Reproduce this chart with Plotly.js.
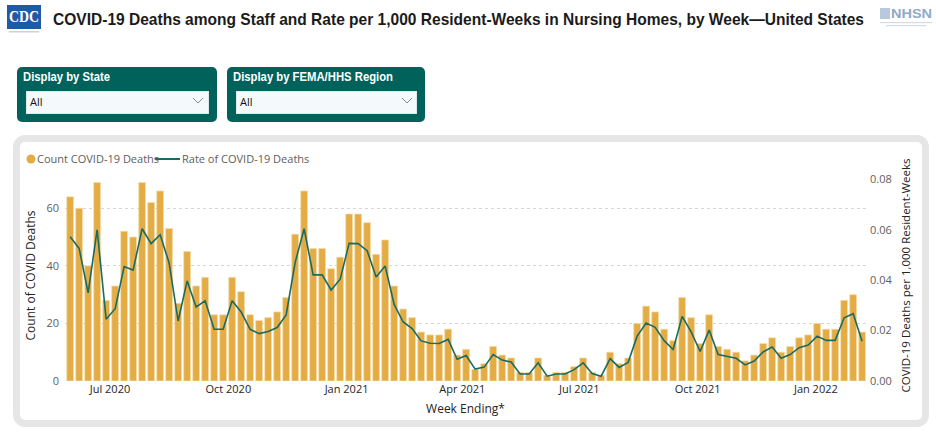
<!DOCTYPE html>
<html>
<head>
<meta charset="utf-8">
<script src="https://cdn.plot.ly/plotly-3.0.1.min.js"></script>
<style>
  html, body { margin:0; padding:0; background:#fff; width:936px; height:432px; overflow:hidden; }
  #page { position:relative; width:936px; height:432px; }
  .abs { position:absolute; }
  #card { left:13px; top:135px; width:902px; height:278px; border:7px solid #E6E6E6; border-radius:12px; background:#fff; }
  .panel { top:67px; height:55px; background:#00625A; border-radius:5px; }
  .box { background:#F4FAFC; border:1px solid #dfe8ea; }
  .all { font-family:"Open Sans", sans-serif; font-size:11px; color:#111; }
  #chart { left:0; top:0; width:936px; height:432px; }
  .leg { font-family:"Open Sans", sans-serif; font-size:11px; color:#605E5C; white-space:nowrap; }
  .fit { white-space:nowrap; transform-origin:0 0; font-family:"Liberation Sans Narrow","Liberation Sans",sans-serif; font-weight:bold; line-height:1; }
</style>
</head>
<body>
<div id="page">
  <!-- header logos -->
  <svg class="abs" style="left:0;top:0" width="936" height="40">
    <rect x="7" y="5" width="34" height="24" fill="#1F5AA6"/>
    <rect x="9" y="31" width="30" height="1.5" fill="#c9d3e0"/>
    <rect x="880" y="8" width="10" height="11" fill="#b8c9dd"/>
    <rect x="880" y="22" width="52" height="1.2" fill="#d3dbe5"/>
    <rect x="886" y="25" width="40" height="1.2" fill="#d3dbe5"/>
  </svg>
  <div class="abs fit" id="cdc" data-w="30" style="left:9px;top:8px;font-family:'Liberation Serif',serif;font-size:17px;color:#fff;">CDC</div>
  <div class="abs fit" id="title" data-w="811" style="left:53px;top:11px;font-size:17px;color:#1b1b1b;">COVID-19 Deaths among Staff and Rate per 1,000 Resident-Weeks in Nursing Homes, by Week—United States</div>
  <div class="abs fit" id="nhsn" data-w="41" style="left:891px;top:8px;font-size:12px;color:#8fa9c9;">NHSN</div>

  <!-- slicers -->
  <div class="abs panel" style="left:17px;width:200px;"></div>
  <div class="abs panel" style="left:227px;width:198px;"></div>
  <div class="abs fit" data-w="87" style="left:23px;top:71px;font-size:12.5px;color:#fff;">Display by State</div>
  <div class="abs fit" data-w="160" style="left:233px;top:71px;font-size:12.5px;color:#fff;">Display by FEMA/HHS Region</div>
  <div class="abs box" style="left:26px;top:91px;width:181px;height:21px;"></div>
  <div class="abs box" style="left:236px;top:91px;width:179px;height:21px;"></div>
  <div class="abs all" style="left:30px;top:94px;">All</div>
  <div class="abs all" style="left:240px;top:94px;">All</div>
  <svg class="abs" style="left:0;top:90px" width="440" height="24">
    <polyline points="193,8 198,13 203,8" fill="none" stroke="#8a8a8a" stroke-width="1"/>
    <polyline points="402,8 407,13 412,8" fill="none" stroke="#8a8a8a" stroke-width="1"/>
  </svg>

  <!-- card -->
  <div class="abs" id="card"></div>

  <!-- legend -->
  <svg class="abs" style="left:0;top:150px" width="320" height="20">
    <circle cx="31" cy="9" r="4.5" fill="#E3AC45"/>
    <line x1="155" y1="9" x2="180" y2="9" stroke="#1A6B62" stroke-width="2"/>
  </svg>
  <div class="abs leg" style="left:37px;top:151px;">Count COVID-19 Deaths</div>
  <div class="abs leg" style="left:182px;top:151px;">Rate of COVID-19 Deaths</div>

  <div class="abs" id="chart"></div>
</div>

<script>
// fit header texts to their measured widths in the reference
document.querySelectorAll(".fit").forEach(function (el) {
  var target = parseFloat(el.getAttribute("data-w"));
  var w = el.getBoundingClientRect().width;
  if (w > 0) el.style.transform = "scaleX(" + (target / w) + ")";
});

// Week ending dates
const weekEnding = [
  "2020-05-31","2020-06-07","2020-06-14","2020-06-21","2020-06-28","2020-07-05","2020-07-12","2020-07-19","2020-07-26",
  "2020-08-02","2020-08-09","2020-08-16","2020-08-23","2020-08-30","2020-09-06","2020-09-13","2020-09-20","2020-09-27",
  "2020-10-04","2020-10-11","2020-10-18","2020-10-25","2020-11-01","2020-11-08","2020-11-15","2020-11-22","2020-11-29",
  "2020-12-06","2020-12-13","2020-12-20","2020-12-27",
  "2021-01-03","2021-01-10","2021-01-17","2021-01-24","2021-01-31","2021-02-07","2021-02-14","2021-02-21","2021-02-28",
  "2021-03-07","2021-03-14","2021-03-21","2021-03-28","2021-04-04","2021-04-11","2021-04-18","2021-04-25",
  "2021-05-02","2021-05-09","2021-05-16","2021-05-23","2021-05-30","2021-06-06","2021-06-13","2021-06-20","2021-06-27",
  "2021-07-04","2021-07-11","2021-07-18","2021-07-25","2021-08-01","2021-08-08","2021-08-15","2021-08-22","2021-08-29",
  "2021-09-05","2021-09-12","2021-09-19","2021-09-26","2021-10-03","2021-10-10","2021-10-17","2021-10-24","2021-10-31",
  "2021-11-07","2021-11-14","2021-11-21","2021-11-28","2021-12-05","2021-12-12","2021-12-19","2021-12-26",
  "2022-01-02","2022-01-09","2022-01-16","2022-01-23","2022-01-30","2022-02-06"
];

// Count of COVID-19 deaths among staff
const countDeaths = [
  64,60,40,69,28,33,52,50,69,
  62,66,53,27,45,33,36,23,23,
  36,31,23,21,22,24,29,51,66,
  46,46,39,43,
  58,58,55,44,49,33,25,22,17,
  16,16,18,9,11,4,6,12,
  9,8,3,3,8,2,3,3,5,
  8,3,2,10,6,8,20,26,24,
  18,14,29,22,13,23,12,11,10,
  7,9,13,15,10,12,15,16,
  20,18,18,28,30,17
];

// Rate of COVID-19 deaths per 1,000 resident-weeks
const rateDeaths = [
  0.0572,0.0526,0.0350,0.0600,0.0245,0.0287,0.0454,0.0440,0.0604,
  0.0545,0.0580,0.0468,0.0238,0.0397,0.0294,0.0318,0.0205,0.0205,
  0.0318,0.0274,0.0205,0.0188,0.0196,0.0212,0.0262,0.0470,0.0604,
  0.0421,0.0421,0.0361,0.0404,
  0.0546,0.0545,0.0517,0.0413,0.0456,0.0304,0.0234,0.0208,0.0159,
  0.0150,0.0149,0.0165,0.0086,0.0101,0.0047,0.0055,0.0105,
  0.0083,0.0075,0.0028,0.0028,0.0072,0.0019,0.0028,0.0028,0.0045,
  0.0072,0.0030,0.0019,0.0089,0.0054,0.0074,0.0178,0.0230,0.0213,
  0.0160,0.0125,0.0256,0.0195,0.0117,0.0202,0.0105,0.0096,0.0090,
  0.0064,0.0079,0.0115,0.0135,0.0090,0.0105,0.0132,0.0143,
  0.0178,0.0161,0.0161,0.0251,0.0267,0.0158
];

const leftTicks = [0, 20, 40, 60];
const rightTicks = [0, 0.02, 0.04, 0.06, 0.08];
const rightTickText = ["0.00", "0.02", "0.04", "0.06", "0.08"];

const GOLD = "#E3AC45";
const TEAL = "#1A6B62";
const tickFont = { family: "Open Sans, sans-serif", size: 11, color: "#605E5C" };

const traces = [
  {
    type: "bar",
    name: "Count COVID-19 Deaths",
    x: weekEnding,
    y: countDeaths,
    marker: { color: GOLD, line: { color: "#F3DCAA", width: 0.7 } },
    hoverinfo: "skip",
    showlegend: false
  },
  {
    type: "scatter",
    mode: "lines",
    name: "Rate of COVID-19 Deaths",
    x: weekEnding,
    y: rateDeaths,
    yaxis: "y2",
    line: { color: TEAL, width: 1.6 },
    hoverinfo: "skip",
    showlegend: false
  }
];

const layout = {
  width: 936,
  height: 432,
  margin: { l: 65, r: 70, t: 170, b: 51 },
  paper_bgcolor: "rgba(0,0,0,0)",
  plot_bgcolor: "rgba(0,0,0,0)",
  bargap: 0.24,
  showlegend: false,
  xaxis: {
    type: "date",
    range: ["2020-05-27", "2022-02-09"],
    tick0: "2020-01-01",
    dtick: "M3",
    tickformat: "%b %Y",
    showgrid: false,
    zeroline: false,
    showline: false,
    ticks: "",
    tickfont: { family: "Open Sans, sans-serif", size: 11, color: "#252423" },
    title: { text: "Week Ending*", standoff: 9, font: { family: "Open Sans, sans-serif", size: 12, color: "#252423" } }
  },
  yaxis: {
    range: [0, 73.3],
    tickvals: leftTicks,
    showgrid: true,
    gridcolor: "#D6D6D6",
    griddash: "dot",
    gridwidth: 1,
    zeroline: false,
    showline: false,
    ticks: "",
    ticklabelstandoff: 5,
    tickfont: tickFont,
    title: { text: "Count of COVID Deaths", standoff: 8, font: { family: "Open Sans, sans-serif", size: 12, color: "#252423" } }
  },
  yaxis2: {
    overlaying: "y",
    side: "right",
    range: [0, 0.0837],
    tickvals: rightTicks,
    ticktext: rightTickText,
    showgrid: false,
    zeroline: false,
    showline: false,
    ticks: "",
    ticklabelstandoff: 3,
    tickfont: tickFont,
    title: { text: "COVID-19 Deaths per 1,000 Resident-Weeks", standoff: 10, font: { family: "Open Sans, sans-serif", size: 11.5, color: "#252423" } }
  }
};

Plotly.newPlot("chart", traces, layout, { staticPlot: true, displayModeBar: false });
</script>
</body>
</html>
